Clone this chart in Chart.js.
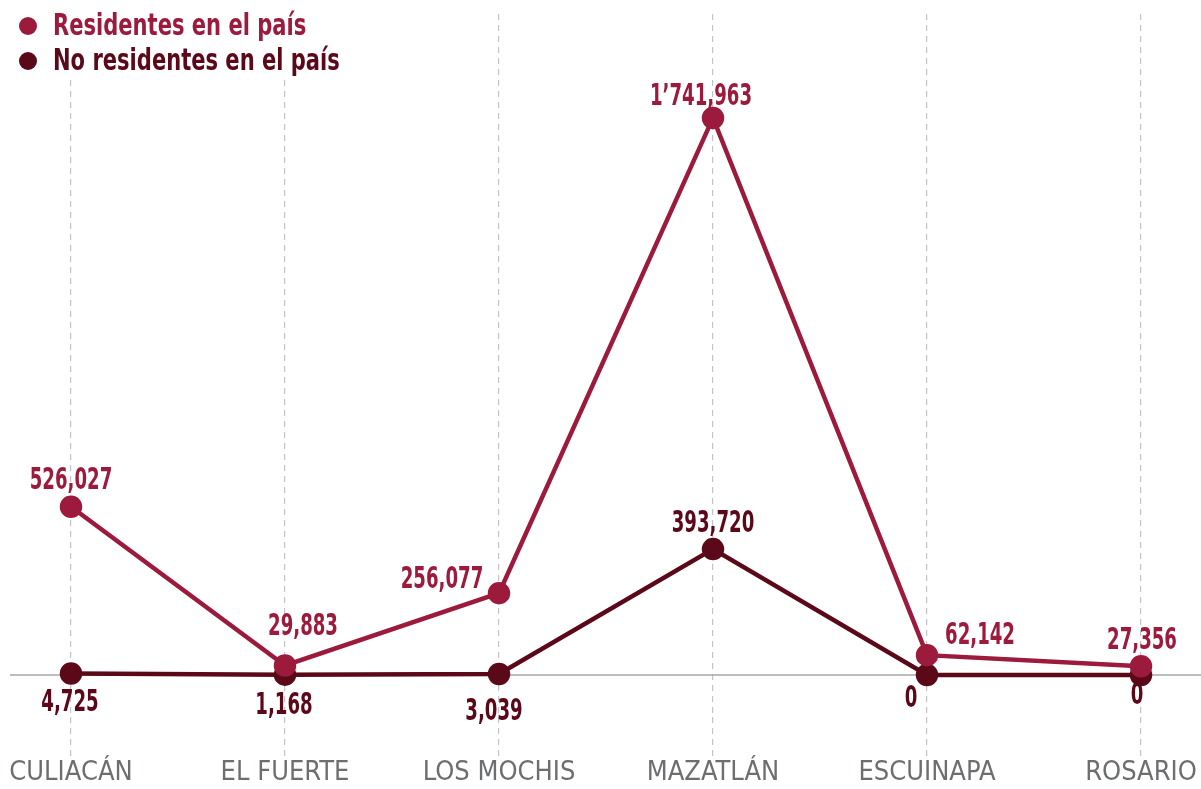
<!DOCTYPE html>
<html>
<head>
<meta charset="utf-8">
<script src="https://cdn.jsdelivr.net/npm/chart.js@4"></script>
<style>
  html, body { margin: 0; padding: 0; background: #fff; }
  #wrap { width: 1201px; height: 789px; }
</style>
</head>
<body>
<div id="wrap"><canvas id="myChart" width="1201" height="789"></canvas></div>
<script>
const cities = ['CULIACÁN', 'EL FUERTE', 'LOS MOCHIS', 'MAZATLÁN', 'ESCUINAPA', 'ROSARIO']
const residentes = [526027, 29883, 256077, 1741963, 62142, 27356]
const noResidentes = [4725, 1168, 3039, 393720, 0, 0]
const residentesText = ['526,027', '29,883', '256,077', '1\u2019741,963', '62,142', '27,356']
const noResidentesText = ['4,725', '1,168', '3,039', '393,720', '0', '0']

const RED = '#9c1b3d'
const DARK = '#5b0818'
const FONT = "'Liberation Sans Narrow', 'DejaVu Sans Condensed', 'Roboto', sans-serif"

// label offsets from each point, [dx, dy]
const redOffsets = [[0, -26], [18, -39], [-57, -13], [-12, -21], [53, -19], [1, -25]]
const darkOffsets = [[-1, 29], [-1, 31], [-5, 38], [0, -25], [-16, 24], [-4, 21]]

// draw text squeezed horizontally, the original uses a condensed face
function narrowText(c, txt, x, y, sx, align) {
	c.save()
	c.translate(x, y)
	c.scale(sx, 1)
	c.textAlign = align
	c.fillText(txt, 0, 0)
	c.restore()
}

const pointLabels = {
	id: 'pointLabels',
	afterDatasetsDraw(chart) {
		const c = chart.ctx
		c.save()
		c.font = 'bold 31px ' + FONT
		c.textBaseline = 'middle'
		const sets = [[residentesText, redOffsets, RED], [noResidentesText, darkOffsets, DARK]]
		sets.forEach((s, i) => {
			chart.getDatasetMeta(i).data.forEach((pt, j) => {
				c.fillStyle = s[2]
				narrowText(c, s[0][j], pt.x + s[1][j][0], pt.y + s[1][j][1], 0.65, 'center')
			})
		})
		c.restore()
	}
}

const zeroLine = {
	id: 'zeroLine',
	beforeDatasetsDraw(chart) {
		const c = chart.ctx
		const y = chart.scales.y.getPixelForValue(0)
		c.save()
		c.strokeStyle = '#a7a7a7'
		c.lineWidth = 1.5
		c.beginPath()
		c.moveTo(10, y)
		c.lineTo(1201, y)
		c.stroke()
		c.restore()
	}
}

const customLegend = {
	id: 'customLegend',
	afterDraw(chart) {
		const c = chart.ctx
		c.save()
		c.fillStyle = '#fff'
		c.fillRect(0, 0, 350, 80)
		c.font = 'bold 30px ' + FONT
		c.textBaseline = 'middle'
		chart.data.datasets.forEach((ds, i) => {
			const y = 26 + i * 35
			c.fillStyle = ds.borderColor
			c.beginPath()
			c.arc(28, y, 9, 0, Math.PI * 2)
			c.fill()
			narrowText(c, ds.label, 53, y + 1, 0.78, 'left')
		})
		c.restore()
	}
}

const ctx = document.getElementById('myChart')
const myChart = new Chart(ctx, {
	type: 'line',
	data: {
		labels: cities,
		datasets: [{
			label: 'Residentes en el país',
			data: residentes,
			borderColor: RED,
			backgroundColor: RED,
			pointBackgroundColor: RED,
			borderWidth: 4.5,
			pointRadius: 9,
			lineTension: 0
		}, {
			label: 'No residentes en el país',
			data: noResidentes,
			borderColor: DARK,
			backgroundColor: DARK,
			pointBackgroundColor: DARK,
			borderWidth: 4.5,
			pointRadius: 9,
			lineTension: 0
		}]
	},
	plugins: [zeroLine, pointLabels, customLegend],
	options: {
		responsive: false,
		animation: false,
		layout: {
			padding: { left: 71, right: 60, top: 14, bottom: 0 }
		},
		scales: {
			x: {
				offset: false,
				border: { display: false, dash: [6, 5] },
				grid: {
					color: '#c4c4c4',
					lineWidth: 1.2,
					tickLength: 40,
					tickBorderDash: [6, 5]
				},
				ticks: {
					color: '#6d6e71',
					font: { family: FONT, size: 27 },
					padding: 0,
					maxRotation: 0,
					autoSkip: false
				}
			},
			y: {
				display: false,
				min: -130000,
				max: 2067000
			}
		},
		plugins: {
			legend: { display: false },
			tooltip: { enabled: false }
		}
	}
})
</script>
</body>
</html>
